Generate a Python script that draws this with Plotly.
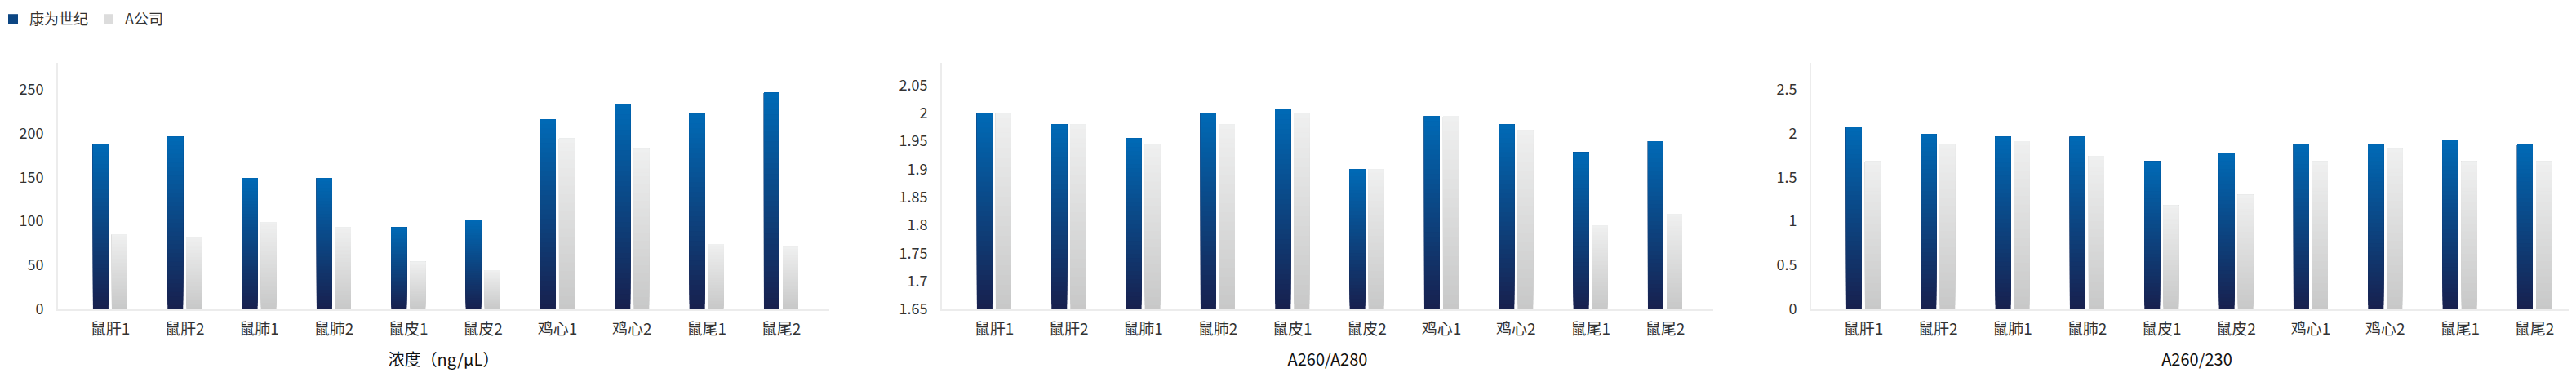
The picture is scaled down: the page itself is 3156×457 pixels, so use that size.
import plotly.graph_objects as go

# ---------------- data ----------------
categories = ["鼠肝1", "鼠肝2", "鼠肺1", "鼠肺2", "鼠皮1", "鼠皮2", "鸡心1", "鸡心2", "鼠尾1", "鼠尾2"]
series_names = ["康为世纪", "A公司"]

conc_kwsj = [188, 196, 149, 149, 93, 102, 216, 233, 222, 246]
conc_a = [85, 82, 99, 93, 54, 44, 194, 183, 74, 71]

r280_kwsj = [2.0, 1.98, 1.955, 2.0, 2.007, 1.9, 1.995, 1.98, 1.93, 1.95]
r280_a = [2.0, 1.98, 1.945, 1.98, 2.0, 1.9, 1.995, 1.97, 1.8, 1.82]

r230_kwsj = [2.07, 1.99, 1.96, 1.96, 1.68, 1.77, 1.88, 1.87, 1.92, 1.87]
r230_a = [1.68, 1.88, 1.91, 1.74, 1.18, 1.30, 1.68, 1.83, 1.68, 1.68]

axis_titles = ["浓度（ng/μL）", "A260/A280", "A260/230"]
ticks_conc = [0, 50, 100, 150, 200, 250]
ticks_280 = [1.65, 1.7, 1.75, 1.8, 1.85, 1.9, 1.95, 2.0, 2.05]
ticks_230 = [0, 0.5, 1, 1.5, 2, 2.5]

# ---------------- style ----------------
W, H = 3156, 457
FONT = "Noto Sans CJK SC"
N_SEG = 40
BLUE_TOP, BLUE_BOT = (0, 106, 182), (24, 32, 78)
GRAY_TOP, GRAY_BOT = (239, 240, 240), (200, 200, 200)

panels = [
    dict(vals=[conc_kwsj, conc_a], rng=[0, 280], ticks=ticks_conc, dom=[63, 1008]),
    dict(vals=[r280_kwsj, r280_a], rng=[1.65, 2.09], ticks=ticks_280, dom=[1146, 2091]),
    dict(vals=[r230_kwsj, r230_a], rng=[0, 2.8], ticks=ticks_230, dom=[2211, 3156]),
]
ydom = [(H - 371) / H, (H - 69) / H]


def mix(c0, c1, t):
    return "rgb(%d,%d,%d)" % tuple(round(a + (b - a) * t) for a, b in zip(c0, c1))


fig = go.Figure()
grads = [(BLUE_BOT, BLUE_TOP), (GRAY_BOT, GRAY_TOP)]

# Each bar is drawn as N_SEG overlapping layers (base rising, top fixed at the
# value) so that the visible slices build a vertical gradient without seams.
for p, panel in enumerate(panels):
    xa = "x" if p == 0 else f"x{p+1}"
    ya = "y" if p == 0 else f"y{p+1}"
    floor = panel["rng"][0]
    for s, vals in enumerate(panel["vals"]):
        c_bot, c_top = grads[s]
        for k in range(N_SEG):
            base = [floor + (v - floor) * k / N_SEG for v in vals]
            seg = [v - b for v, b in zip(vals, base)]
            col = mix(c_bot, c_top, (k + 0.5) / N_SEG)
            show = (p == 0 and k == N_SEG // 2)
            fig.add_trace(go.Bar(
                x=categories, y=seg, base=base,
                xaxis=xa, yaxis=ya,
                offsetgroup=f"g{s}",
                name=series_names[s], legendgroup=series_names[s],
                showlegend=show,
                marker=dict(color=col, line=dict(width=0)),
                hoverinfo="skip",
            ))

layout = dict(
    width=W, height=H,
    margin=dict(l=0, r=0, t=0, b=0, autoexpand=False),
    paper_bgcolor="white", plot_bgcolor="white",
    barmode="group", bargap=0.496, bargroupgap=0.174,
    font=dict(family=FONT, size=18, color="#333333"),
    showlegend=True,
    legend=dict(orientation="h", x=-12 / W, y=1 + 3 / H, xanchor="left", yanchor="top",
                font=dict(size=18, color="#333333"), itemwidth=30,
                traceorder="normal", bgcolor="rgba(0,0,0,0)"),
)
for p, panel in enumerate(panels):
    suf = "" if p == 0 else str(p + 1)
    layout["xaxis" + suf] = dict(
        domain=[panel["dom"][0] / W, panel["dom"][1] / W],
        anchor="y" + suf, type="category", range=[-0.70, 9.646],
        showline=True, linecolor="#ececec", linewidth=2,
        showgrid=False, zeroline=False, ticks="",
        tickfont=dict(size=19, color="#333333"), ticklabelstandoff=6,
        title=dict(text=axis_titles[p], font=dict(size=20, color="#111111"), standoff=20),
    )
    layout["yaxis" + suf] = dict(
        domain=ydom, anchor="x" + suf, range=panel["rng"],
        tickvals=panel["ticks"], ticktext=[f"{v:g}" for v in panel["ticks"]],
        showline=True, linecolor="#ececec", linewidth=2,
        showgrid=False, zeroline=False, ticks="",
        tickfont=dict(size=18, color="#333333"), ticklabelstandoff=12,
    )
fig.update_layout(**layout)
fig.write_html("out.html")
